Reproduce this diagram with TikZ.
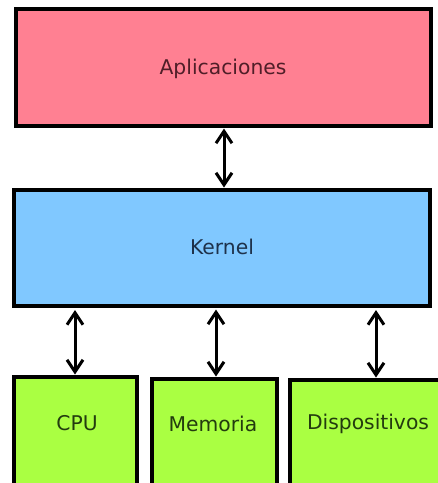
\documentclass[tikz,border=0pt]{standalone}
\usepackage{fontspec}
\setmainfont{DejaVu Sans}
\usetikzlibrary{arrows.meta}
\definecolor{appc}{RGB}{255,128,146}
\definecolor{kerc}{RGB}{128,200,255}
\definecolor{hwc}{RGB}{170,255,66}
\definecolor{apptxt}{RGB}{80,30,40}
\definecolor{kertxt}{RGB}{30,50,75}
\definecolor{hwtxt}{RGB}{35,60,15}
\tikzset{
  layer/.style={draw=black, line width=3.4pt, inner sep=0pt},
  lbl/.style={font=\fontsize{20.3}{22}\selectfont, inner sep=0pt},
  conn/.style={line width=3pt, {Straight Barb[length=12pt,width=16pt,line width=3pt]}-{Straight Barb[length=12pt,width=16pt,line width=3pt]}, shorten <=0.5pt, shorten >=0.5pt}
}
\begin{document}
\begin{tikzpicture}[x=1pt,y=-1pt]
\useasboundingbox (0,0) rectangle (438,483);
\clip (0,0) rectangle (438,483);
\fill[white] (0,0) rectangle (438,483);
% boxes
\draw[layer, fill=appc] (16,9) rectangle (431,126);
\draw[layer, fill=kerc] (14,190) rectangle (430,306);
\draw[layer, fill=hwc] (14,377) rectangle (137,495);
\draw[layer, fill=hwc] (152,379) rectangle (277,495);
\draw[layer, fill=hwc] (290,380) rectangle (450,495);
% labels
\node[lbl, text=apptxt] (app) at (223,69) {Aplicaciones};
\node[lbl, text=kertxt] (ker) at (222,247) {Kernel};
\node[lbl, text=hwtxt] (cpu) at (77,423) {CPU};
\node[lbl, text=hwtxt] (mem) at (213,424) {Memoria};
\node[lbl, text=hwtxt] (dev) at (368,424) {Dispositivos};
\coordinate (appB) at (224,128);
\coordinate (kerT) at (224,188);
\coordinate (k1) at (75,309.5);
\coordinate (c1) at (75,375);
\coordinate (k2) at (216,309);
\coordinate (m2) at (216,377);
\coordinate (k3) at (376,309.5);
\coordinate (d3) at (376,378);
\draw[conn] (appB) -- (kerT);
\draw[conn] (k1) -- (c1);
\draw[conn] (k2) -- (m2);
\draw[conn] (k3) -- (d3);
\end{tikzpicture}
\end{document}
